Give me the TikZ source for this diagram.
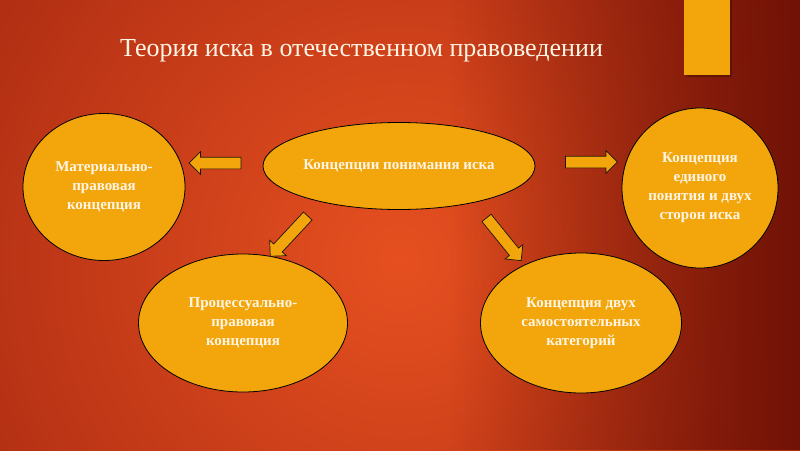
\documentclass[tikz,border=0pt]{standalone}
\usepackage{fontspec}
\setmainfont{Liberation Serif}
\usepackage{xcolor}
\usepackage{tikz}
\usetikzlibrary{shapes.geometric}
\usetikzlibrary{shapes.arrows}
\usetikzlibrary{fadings}

\definecolor{bglight}{RGB}{230,80,32}
\definecolor{bgmid}{RGB}{154,32,14}
\definecolor{bgdark}{RGB}{112,18,6}
\definecolor{conceptfill}{RGB}{242,166,12}
\definecolor{textcream}{RGB}{255,245,228}

\tikzfading[name=fadeleft, left color=transparent!100, right color=transparent!0]

\begin{document}
\begin{tikzpicture}[x=1pt, y=-1pt,
    concept/.style={ellipse, draw=black, line width=0.8pt, fill=conceptfill, inner sep=0pt, align=center, text=textcream, font=\bfseries\fontsize{15}{19}\selectfont},
    blockarrow/.style={single arrow, draw=black!85!brown, line width=0.7pt, fill=conceptfill, minimum height=52pt, inner xsep=0pt, inner ysep=5.5pt, single arrow head extend=5.5pt}]
    \useasboundingbox (0,0) rectangle (800,450);
    \begin{scope}
        \clip (0,0) rectangle (800,450);
        \shade[inner color=bglight, outer color=bgmid] (400,260) circle (680);
        \fill[bgdark, path fading=fadeleft] (450,0) rectangle (800,450);
    \end{scope}

    \fill[black, opacity=0.25] (686,0) rectangle (732,77);
    \fill[conceptfill] (684,0) rectangle (730,75);

    \node[font=\fontsize{26}{30}\selectfont, text=textcream, anchor=base west, inner sep=0pt] (title) at (120,56) {Теория иска в отечественном правоведении};

    \node[concept, minimum width=272pt, minimum height=87pt] (kinds) at (399,166) {Концепции понимания иска};
    \node[concept, minimum width=162pt, minimum height=147pt] (material) at (104,187) {Материально-\\правовая\\концепция};
    \node[concept, minimum width=156pt, minimum height=160pt] (single) at (700,188) {Концепция\\единого\\понятия и двух\\сторон иска};
    \node[concept, minimum width=209pt, minimum height=138pt] (procedural) at (243,323) {Процессуально-\\правовая\\концепция};
    \node[concept, minimum width=201pt, minimum height=140pt] (twocat) at (581,323) {Концепция двух\\самостоятельных\\категорий};

    \node[blockarrow, rotate=180] (toMaterial) at (218,163) {};
    \node[blockarrow] (toSingle) at (588.5,162) {};
    \node[blockarrow, rotate=227, minimum height=55pt] (toProcedural) at (291,234) {};
    \node[blockarrow, rotate=-51, minimum height=55pt] (toTwocat) at (502,237) {};
\end{tikzpicture}
\end{document}
